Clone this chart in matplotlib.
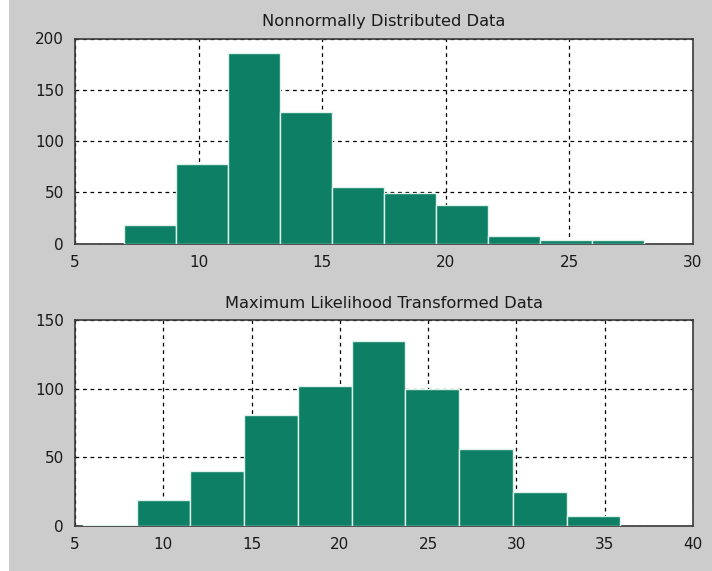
import numpy as np
import matplotlib
matplotlib.use("Agg")
import matplotlib.pyplot as plt
import matplotlib.patches as patches

# histogram counts
top_edges = [7.0, 9.1, 11.2, 13.3, 15.4, 17.5, 19.6, 21.7, 23.8, 25.9, 28.0]
top_counts = [18, 78, 186, 128, 55, 49, 38, 7, 3, 3]
top_title = "Nonnormally Distributed Data"
top_xticks = [5, 10, 15, 20, 25, 30]
top_yticks = [0, 50, 100, 150, 200]

bot_edges = [5.45, 8.49, 11.53, 14.58, 17.62, 20.66, 23.71, 26.75, 29.79, 32.84, 35.88]
bot_counts = [1, 19, 40, 81, 102, 135, 100, 56, 25, 7]
bot_title = "Maximum Likelihood Transformed Data"
bot_xticks = [5, 10, 15, 20, 25, 30, 35, 40]
bot_yticks = [0, 50, 100, 150]

BG = "#cccccc"
BAR = "#0d7f64"
EDGE = "#dff2ea"

plt.rcParams['font.family'] = ['DejaVu Sans']

fig = plt.figure(figsize=(7.12, 5.71), dpi=100, facecolor="white")
# gray panel, thin white strip on the left
fig.patches.append(patches.Rectangle((9 / 712, 0), 1, 1, transform=fig.transFigure,
                                     facecolor=BG, edgecolor="none", zorder=-10))

ax1 = fig.add_axes([75 / 712, 1 - 243.5 / 571, 618 / 712, 205 / 571])
ax2 = fig.add_axes([75 / 712, 1 - 526 / 571, 618 / 712, 206 / 571])


def draw_hist(ax, edges, counts, title, xticks, yticks):
    edges = np.array(edges)
    ax.bar(edges[:-1], counts, width=np.diff(edges), align='edge',
           color=BAR, edgecolor=EDGE, linewidth=1.0, zorder=3)
    ax.set_xlim(xticks[0], xticks[-1])
    ax.set_ylim(yticks[0], yticks[-1])
    ax.set_xticks(xticks)
    ax.set_yticks(yticks)
    ax.set_axisbelow(True)
    ax.grid(True, color="black", linewidth=0.9, linestyle=(0, (3, 3)))
    ax.tick_params(direction='in', length=0, labelsize=11, pad=8, colors="#1a1a1a")
    for s in ax.spines.values():
        s.set_color("#3a3a3a")
        s.set_linewidth(1.2)
        s.set_zorder(2.5)
    ax.set_title(title, fontsize=11.7, pad=9, color="#1a1a1a")


draw_hist(ax1, top_edges, top_counts, top_title, top_xticks, top_yticks)
draw_hist(ax2, bot_edges, bot_counts, bot_title, bot_xticks, bot_yticks)

fig.savefig("out.png", dpi=100, facecolor=fig.get_facecolor())
